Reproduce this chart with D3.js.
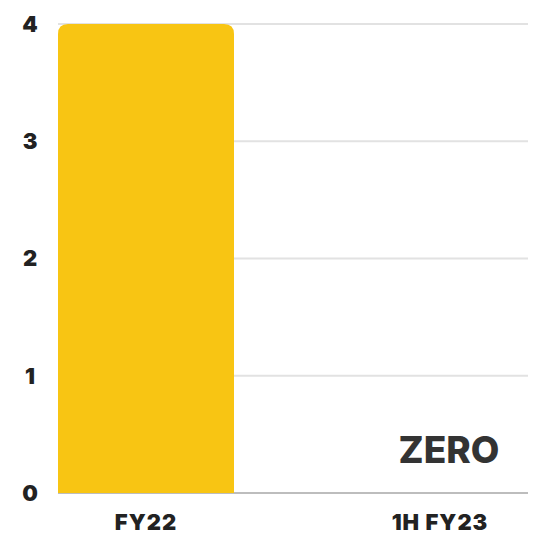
<!DOCTYPE html>
<html>
<head>
<meta charset="utf-8">
<script src="https://cdn.jsdelivr.net/npm/d3@7"></script>
<style>
  body { margin: 0; background: #fff; }
  text { font-family: Inter, "Open Sans", sans-serif; font-weight: 800; fill: #222; }
</style>
</head>
<body>
<div id="container"></div>
<script>
let w = 539;
let h = 552;

// data
let categories = ["FY22", "1H FY23"];
let values = [4, 0];
let valueNotes = ["", "ZERO"];
let yTicks = [0, 1, 2, 3, 4];

let viz = d3.select("#container").append("svg")
  .attr("width", w)
  .attr("height", h)
  .style("background-color", "white");

let yScale = d3.scaleLinear().domain([0, 4]).range([493, 24]);
let xScale = d3.scalePoint().domain(categories).range([146, 440]);
let barW = 176;
let gridLeft = 58, gridRight = 528;

// gridlines
viz.selectAll(".grid").data(yTicks).enter()
  .append("line")
  .attr("class", "grid")
  .attr("x1", gridLeft)
  .attr("x2", gridRight)
  .attr("y1", d => yScale(d))
  .attr("y2", d => yScale(d))
  .attr("stroke", d => d == 0 ? "#bdbdbd" : "#e2e2e2")
  .attr("stroke-width", 2);

// y labels
viz.selectAll(".ylab").data(yTicks).enter()
  .append("text")
  .attr("class", "ylab")
  .attr("x", 30)
  .attr("y", d => yScale(d))
  .attr("dy", "0.36em")
  .attr("text-anchor", "middle")
  .style("font-size", "22px")
  .style("font-weight", 900)
  .text(d => d);

// bars with rounded top corners
function barPath(d, i) {
  let x0 = xScale(categories[i]) - barW / 2;
  let x1 = x0 + barW;
  let y0 = yScale(0);
  let y1 = yScale(d);
  let r = Math.min(10, (y0 - y1) / 2);
  if (y0 - y1 <= 0) return "";
  return "M" + x0 + "," + y0 +
    "L" + x0 + "," + (y1 + r) +
    "Q" + x0 + "," + y1 + " " + (x0 + r) + "," + y1 +
    "L" + (x1 - r) + "," + y1 +
    "Q" + x1 + "," + y1 + " " + x1 + "," + (y1 + r) +
    "L" + x1 + "," + y0 + "Z";
}

viz.selectAll(".bar").data(values).enter()
  .append("path")
  .attr("class", "bar")
  .attr("d", barPath)
  .attr("fill", "#F8C513");

// x labels
viz.selectAll(".xlab").data(categories).enter()
  .append("text")
  .attr("class", "xlab")
  .attr("x", d => xScale(d))
  .attr("y", 530)
  .attr("text-anchor", "middle")
  .style("font-size", "22px")
  .style("font-weight", 900)
  .style("letter-spacing", "1px")
  .text(d => d);

// value notes (ZERO)
viz.selectAll(".note").data(valueNotes).enter()
  .append("text")
  .attr("class", "note")
  .attr("x", (d, i) => xScale(categories[i]) + 9)
  .attr("y", 463)
  .attr("text-anchor", "middle")
  .style("font-size", "37px")
  .style("fill", "#333")
  .text(d => d);
</script>
</body>
</html>
